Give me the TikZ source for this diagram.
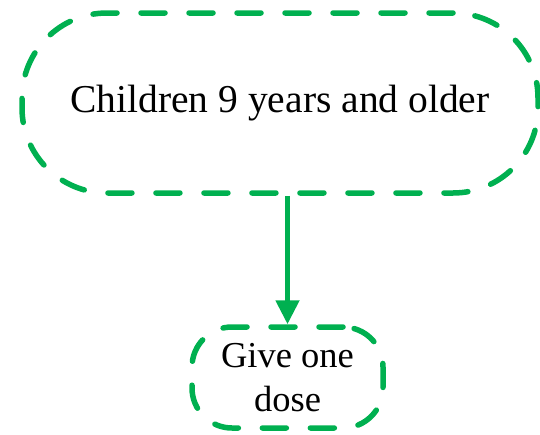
\documentclass[tikz,border=0pt]{standalone}
\usepackage{fontspec}
\setmainfont{Liberation Serif}
\usetikzlibrary{arrows.meta}
\definecolor{dgreen}{RGB}{0,176,80}
\tikzset{
  dbox/.style={draw=dgreen, line width=5.5pt, dash pattern=on 24pt off 24pt, line cap=round, line join=round, align=center, inner sep=0pt},
  flowarrow/.style={draw=dgreen, line width=5pt, -{Triangle[width=23pt,length=24pt]}}
}
\begin{document}
\begin{tikzpicture}[x=1pt,y=-1pt]
\useasboundingbox (0,0) rectangle (540,434);
\node[dbox, rounded corners=85pt, minimum width=516pt, minimum height=180pt, font=\fontsize{39.5}{44}\selectfont] (big) at (280,103) {Children 9 years and older};
\node[dbox, rounded corners=40pt, minimum width=191pt, minimum height=101pt, font=\fontsize{36.5}{44}\selectfont] (small) at (287.5,377.5) {Give one\\dose};
\draw[flowarrow] (small.north |- big.south) -- (small.north);
\end{tikzpicture}
\end{document}
